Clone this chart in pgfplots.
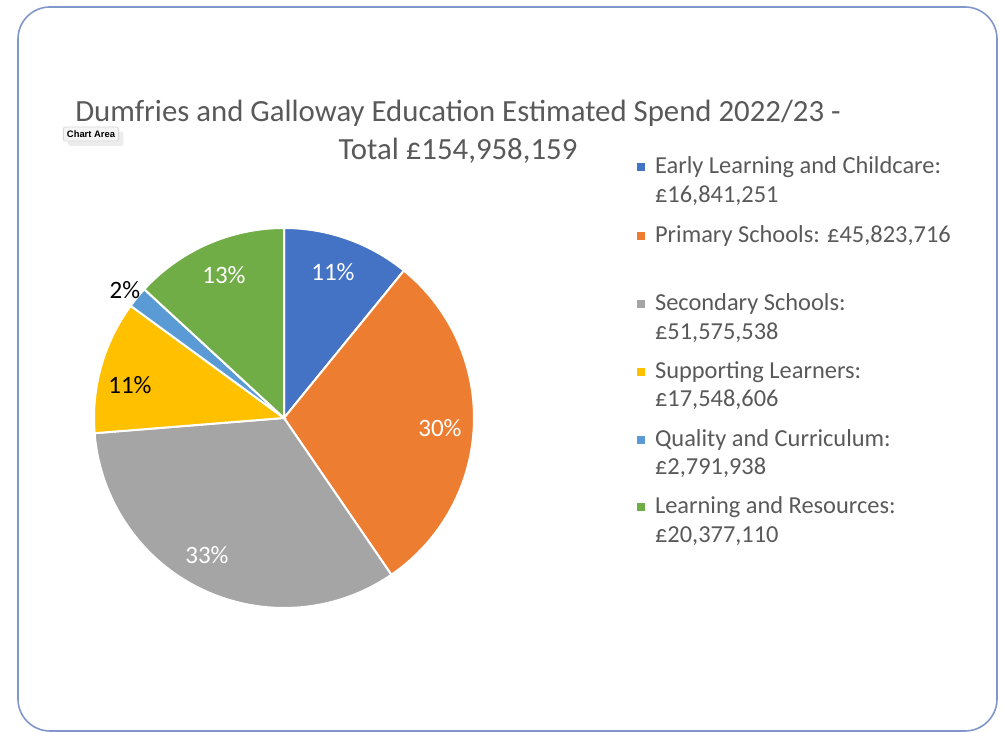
\documentclass[border=0pt]{standalone}
\usepackage{pgfplots}
\usepackage{pgfplotstable}
\pgfplotsset{compat=1.18}
\usepackage{fontspec}
\setmainfont{Carlito}
\newfontfamily\tipfont{Liberation Sans}
\usetikzlibrary{shadows}

\definecolor{cBlue}{HTML}{4472C4}
\definecolor{cOrange}{HTML}{ED7D31}
\definecolor{cGray}{HTML}{A5A5A5}
\definecolor{cYellow}{HTML}{FFC000}
\definecolor{cLight}{HTML}{5B9BD5}
\definecolor{cGreen}{HTML}{70AD47}
\definecolor{txt}{HTML}{595959}
\definecolor{frame}{HTML}{8197CB}

% spend per area, GBP millions
\pgfplotstableread{
value      col
16.841251  cBlue
45.823716  cOrange
51.575538  cGray
17.548606  cYellow
2.791938   cLight
20.377110  cGreen
}\spend

\begin{document}
\begin{tikzpicture}
\begin{axis}[
    hide axis,
    scale only axis,
    width=501pt, height=366pt,
    xmin=0, xmax=1002, ymin=0, ymax=732,
    clip=false,
]
% full canvas
\path (axis cs:0,0) rectangle (axis cs:1002,732);
% chart frame
\draw[frame, line width=0.8pt, rounded corners=16pt]
    (axis cs:18,1) rectangle (axis cs:997,725);

% pie slices, clockwise from 12 o'clock
\pgfmathsetmacro{\total}{0}
\pgfplotsforeachungrouped \i in {0,...,5}{%
    \pgfplotstablegetelem{\i}{value}\of\spend
    \pgfmathsetmacro{\total}{\total+\pgfplotsretval}
}
\def\start{90}
\pgfplotsforeachungrouped \i in {0,...,5}{%
    \pgfplotstablegetelem{\i}{value}\of\spend
    \pgfmathsetmacro{\stop}{\start-360*(\pgfplotsretval/\total)}
    \pgfplotstablegetelem{\i}{col}\of\spend
    \edef\temp{\noexpand\fill[\pgfplotsretval, draw=white, line width=1pt]
        (axis cs:284,314) -- ++(\start:95pt)
        arc[start angle=\start, end angle=\stop, radius=95pt] -- cycle;}
    \temp
    \let\start=\stop
}

% percentage labels
\begin{scope}[font=\fontsize{12.5}{14}\selectfont]
\node[white] at (axis cs:333,460) {11\%};
\node[white] at (axis cs:440,304) {30\%};
\node[white] at (axis cs:207,177) {33\%};
\node[black] at (axis cs:130,347) {11\%};
\node[black] at (axis cs:125,442) {2\%};
\node[white] at (axis cs:224,457) {13\%};
\end{scope}

% title
\node[txt, font=\fontsize{15.4}{18}\selectfont, align=center] at (axis cs:458,600)
    {Dumfries and Galloway Education Estimated Spend 2022/23 -\\[1pt]Total £154,958,159};

% tooltip
\node[fill=gray!8, draw=gray!30, rounded corners=1pt, drop shadow={opacity=0.15},
      font=\tipfont\bfseries\fontsize{4.7}{5}\selectfont, inner sep=1.8pt]
    at (axis cs:91,598) {Chart Area};

% legend
\fill[cBlue]   (axis cs:637,561) rectangle (axis cs:645,569);
\fill[cOrange] (axis cs:637,492) rectangle (axis cs:645,500);
\fill[cGray]   (axis cs:637,424) rectangle (axis cs:645,432);
\fill[cYellow] (axis cs:637,356) rectangle (axis cs:645,364);
\fill[cLight]  (axis cs:637,288) rectangle (axis cs:645,296);
\fill[cGreen]  (axis cs:637,221) rectangle (axis cs:645,229);
\begin{scope}[txt, font=\fontsize{12.2}{14}\selectfont]
\node[anchor=west] at (axis cs:648,565) {Early Learning and Childcare:};
\node[anchor=west] at (axis cs:648,536) {£16,841,251};
\node[anchor=west] at (axis cs:648,496) {Primary Schools: £45,823,716};
\node[anchor=west] at (axis cs:648,428) {Secondary Schools:};
\node[anchor=west] at (axis cs:648,399) {£51,575,538};
\node[anchor=west] at (axis cs:648,360) {Supporting Learners:};
\node[anchor=west] at (axis cs:648,332) {£17,548,606};
\node[anchor=west] at (axis cs:648,292) {Quality and Curriculum:};
\node[anchor=west] at (axis cs:648,264) {£2,791,938};
\node[anchor=west] at (axis cs:648,225) {Learning and Resources:};
\node[anchor=west] at (axis cs:648,196) {£20,377,110};
\end{scope}
\end{axis}
\end{tikzpicture}
\end{document}
